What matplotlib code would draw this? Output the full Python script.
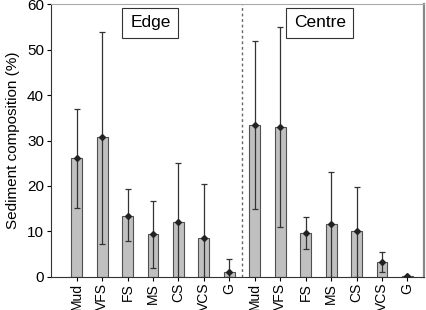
import matplotlib
matplotlib.use("Agg")
import matplotlib.pyplot as plt
import numpy as np

plt.rcParams['font.family'] = ['Liberation Sans', 'DejaVu Sans']

categories = ["Mud", "VFS", "FS", "MS", "CS", "VCS", "G"]
edge_mean = [26.2, 30.8, 13.4, 9.4, 12.1, 8.6, 1.0]
edge_low = [15.1, 7.3, 7.8, 2.0, 0.0, 0.0, 0.0]
edge_high = [37.0, 54.0, 19.3, 16.6, 25.0, 20.5, 3.8]
centre_mean = [33.5, 32.9, 9.6, 11.6, 10.0, 3.2, 0.1]
centre_low = [15.0, 11.0, 6.0, 0.0, 0.0, 1.0, 0.0]
centre_high = [52.0, 55.0, 13.2, 23.1, 19.8, 5.5, 0.2]
group_labels = ["Edge", "Centre"]

means = np.array(edge_mean + centre_mean)
lows = np.array(edge_low + centre_low)
highs = np.array(edge_high + centre_high)
labels = categories + categories
x = np.arange(len(means))

fig = plt.figure(figsize=(4.26, 3.10), dpi=100)
ax = fig.add_axes([0.1197, 0.1074, 0.9953 - 0.1197, 0.986 - 0.1074])

ax.bar(x, means, width=0.43, color='#c0c0c0', edgecolor='#505050', linewidth=0.8, zorder=2)
ax.errorbar(x, means, yerr=[means - lows, highs - means], fmt='D', color='#222222',
            markersize=3, ecolor='#333333', elinewidth=0.9, capsize=2.5, capthick=0.9, zorder=3)

ax.axvline(6.5, color='#666666', linestyle=(0, (2, 2)), linewidth=1.0, zorder=1)

ax.set_xlim(-1.01, 13.65)
ax.set_ylim(0, 60)
ax.set_yticks([0, 10, 20, 30, 40, 50, 60])
ax.set_xticks(x)
ax.set_xticklabels(labels, rotation=90, fontsize=10)
ax.tick_params(axis='y', labelsize=11, length=3, width=0.8, direction='out', pad=2)
ax.tick_params(axis='x', length=3, width=0.8, direction='out', pad=1.5)
ax.set_ylabel("Sediment composition (%)", fontsize=11, labelpad=5)

ax.spines['left'].set_color('#333333')
ax.spines['bottom'].set_color('#333333')
ax.spines['top'].set_color('#aaaaaa')
ax.spines['top'].set_linewidth(0.8)
ax.spines['right'].set_color('#888888')
ax.spines['right'].set_linewidth(1.6)

box = dict(boxstyle='square,pad=0.45', facecolor='white', edgecolor='#333333', linewidth=0.8)
ax.text(2.9, 55.9, group_labels[0], ha='center', va='center', fontsize=12.5, bbox=box)
ax.text(9.55, 55.9, group_labels[1], ha='center', va='center', fontsize=12.5, bbox=box)

fig.savefig("out.png", dpi=100)
